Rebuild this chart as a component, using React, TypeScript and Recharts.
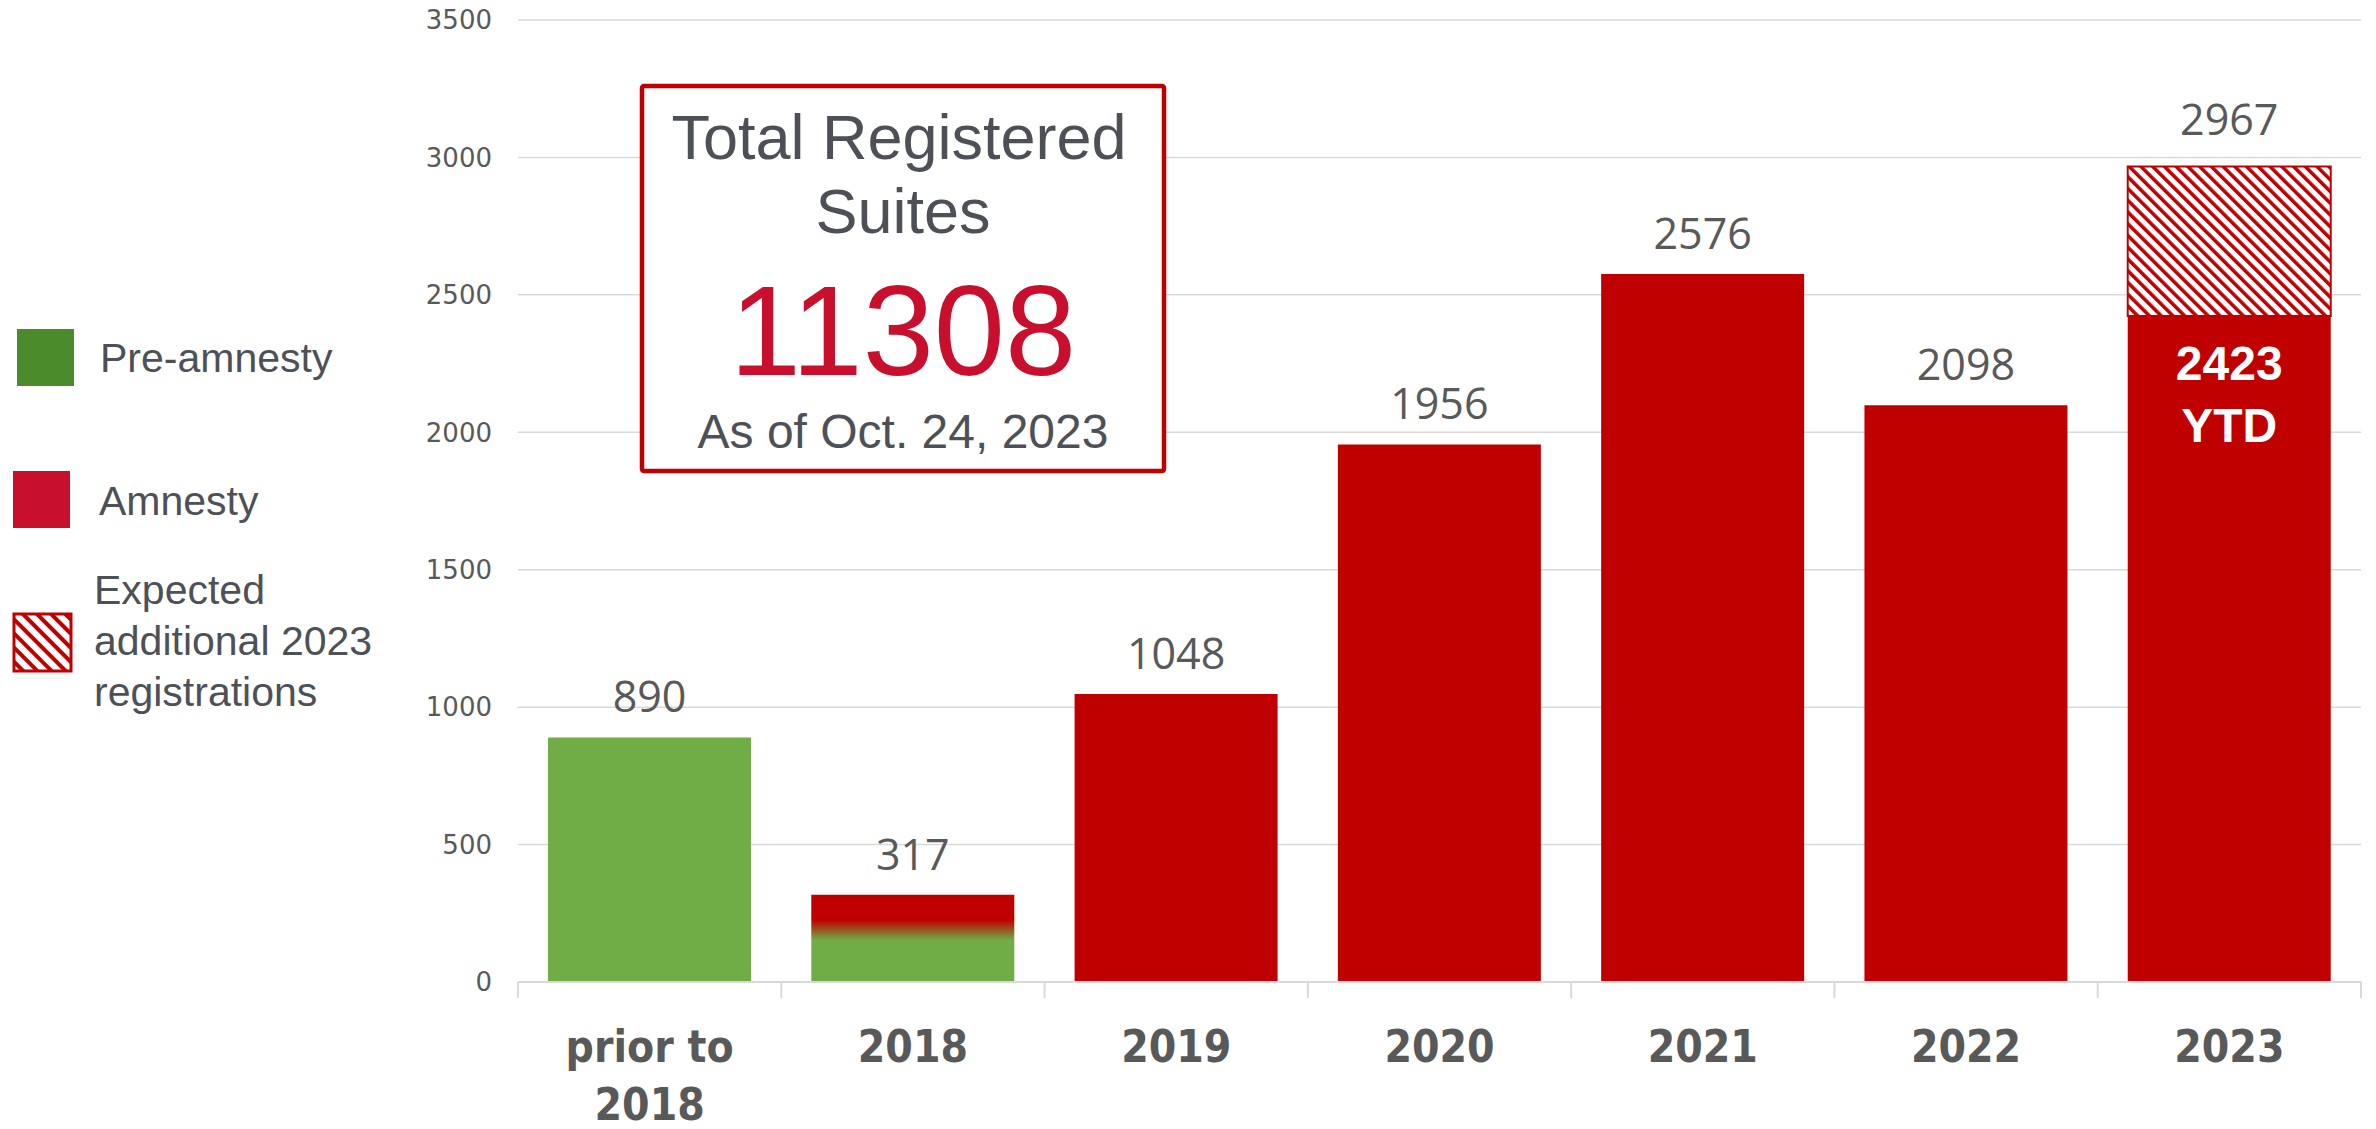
import React from 'react';
import { BarChart, Bar, XAxis, YAxis, CartesianGrid, Cell, LabelList } from 'recharts';

// values
const categories = ['prior to\n2018', '2018', '2019', '2020', '2021', '2022', '2023'];
const registered = [890, 317, 1048, 1956, 2576, 2098, 2423];
const expectedExtra = [0, 0, 0, 0, 0, 0, 544];
const phase = ['pre', 'mixed', 'amnesty', 'amnesty', 'amnesty', 'amnesty', 'ytd'];
const yTicks = [0, 500, 1000, 1500, 2000, 2500, 3000, 3500];
const totalSuites = 11308;
const asOf = 'As of Oct. 24, 2023';
const legendLabels = ['Pre-amnesty', 'Amnesty', 'Expected\nadditional 2023\nregistrations'];

const RED = '#C00000';
const GREEN = '#70AD47';
const LEGEND_GREEN = '#4C8B2B';
const LEGEND_RED = '#C8102E';
const TEXT = '#4D5157';
const LABEL = '#595959';
const GRID = '#D9D9D9';
const SANS = "'Liberation Sans', Arial, sans-serif";
const NUM = "'Open Sans', sans-serif";
const COND = "'DejaVu Sans Condensed', 'Liberation Sans Narrow', sans-serif";

const data = categories.map((name, i) => ({
  name,
  registered: registered[i],
  expected: expectedExtra[i],
  total: registered[i] + expectedExtra[i],
}));

const fillFor = (p: string) => {
  if (p === 'pre') return GREEN;
  if (p === 'mixed') return 'url(#grad2018)';
  return RED;
};

const XTick = (props: any) => {
  const { x, y, payload, index } = props;
  const half = payload && payload.offset ? payload.offset : 131.6;
  const lines = String(payload.value).split('\n');
  return (
    <g>
      <line x1={x - half} x2={x - half} y1={y} y2={y + 16} stroke={GRID} strokeWidth={2} />
      {index === categories.length - 1 && (
        <line x1={x + half} x2={x + half} y1={y} y2={y + 16} stroke={GRID} strokeWidth={2} />
      )}
      <text
        x={x}
        textAnchor="middle"
        fill={LABEL}
        fontFamily={COND}
        fontStretch="condensed"
        fontWeight="bold"
        fontSize={44}
      >
        {lines.map((l, i) => (
          <tspan key={i} x={x} y={y + 80 + i * 58}>
            {l}
          </tspan>
        ))}
      </text>
    </g>
  );
};

const renderRegisteredLabel = (props: any) => {
  const { x, y, width, index, value } = props;
  const cx = x + width / 2;
  if (phase[index] === 'ytd') {
    return (
      <text textAnchor="middle" fill="#fff" fontWeight="bold" fontFamily={SANS} fontSize={48}>
        <tspan x={cx} y={y + 64}>{value}</tspan>
        <tspan x={cx} y={y + 126}>YTD</tspan>
      </text>
    );
  }
  return (
    <text x={cx} y={y - 25} textAnchor="middle" fill={LABEL} fontFamily={NUM} fontSize={43}>
      {value}
    </text>
  );
};

// total above the stacked (hatched) segment, only where that segment exists
const renderTotalLabel = (props: any) => {
  const { x, y, width, height, value } = props;
  if (!height || Math.abs(height) < 0.5) return null;
  return (
    <text x={x + width / 2} y={y - 31} textAnchor="middle" fill={LABEL} fontFamily={NUM} fontSize={43}>
      {value}
    </text>
  );
};

const Overlay = () => (
  <svg
    width={2376}
    height={1129}
    style={{ position: 'absolute', left: 0, top: 0, pointerEvents: 'none' }}
  >
    <defs>
      <pattern id="hatchLegend" patternUnits="userSpaceOnUse" width={10} height={10} patternTransform="rotate(-45)">
        <rect width={10} height={10} fill="#fff" />
        <rect width={4} height={10} fill={RED} />
      </pattern>
    </defs>

    {/* legend */}
    <rect x={17} y={329} width={57} height={57} fill={LEGEND_GREEN} />
    <text x={100} y={372} fontFamily={SANS} fontSize={41} fill={TEXT}>{legendLabels[0]}</text>
    <rect x={13} y={471} width={57} height={57} fill={LEGEND_RED} />
    <text x={99} y={515} fontFamily={SANS} fontSize={41} fill={TEXT}>{legendLabels[1]}</text>
    <rect x={14} y={614} width={57} height={57} fill="url(#hatchLegend)" stroke={RED} strokeWidth={3} />
    <text fontFamily={SANS} fontSize={41} fill={TEXT}>
      {legendLabels[2].split('\n').map((l, i) => (
        <tspan key={i} x={94} y={604 + i * 51}>{l}</tspan>
      ))}
    </text>

    {/* total box */}
    <rect x={642} y={86} width={522} height={385} fill="#fff" stroke={RED} strokeWidth={4.5} rx={2} />
    <text textAnchor="middle" fontFamily={SANS} fill={TEXT} fontSize={63}>
      <tspan x={899} y={159}>Total Registered</tspan>
      <tspan x={903} y={233}>Suites</tspan>
    </text>
    <text x={903} y={375} textAnchor="middle" fontFamily={SANS} fill={LEGEND_RED} fontSize={128}>
      {totalSuites}
    </text>
    <text x={903} y={448} textAnchor="middle" fontFamily={SANS} fill={TEXT} fontSize={48}>
      {asOf}
    </text>
  </svg>
);

export default function App() {
  return (
    <div style={{ position: 'fixed', left: 0, top: 0, width: 2376, height: 1129, background: '#fff' }}>
      <BarChart
        width={2376}
        height={1129}
        data={data}
        margin={{ top: 20, right: 15, bottom: 0, left: 418 }}
        barCategoryGap="11.4%"
      >
        <defs>
          <linearGradient id="grad2018" x1="0" y1="0" x2="0" y2="1">
            <stop offset="0" stopColor={RED} />
            <stop offset="0.29" stopColor={RED} />
            <stop offset="0.52" stopColor={GREEN} />
            <stop offset="1" stopColor={GREEN} />
          </linearGradient>
          <pattern id="hatchBar" patternUnits="userSpaceOnUse" width={8.3} height={8.3} patternTransform="rotate(-45)">
            <rect width={8.3} height={8.3} fill="#fff" />
            <rect width={3.5} height={8.3} fill={RED} />
          </pattern>
        </defs>
        <CartesianGrid vertical={false} stroke={GRID} strokeWidth={1.5} />
        <XAxis
          dataKey="name"
          interval={0}
          height={147}
          axisLine={{ stroke: GRID, strokeWidth: 2 }}
          tickLine={false}
          tickSize={0}
          tickMargin={0}
          tick={<XTick />}
        />
        <YAxis
          width={100}
          domain={[0, 3500]}
          ticks={yTicks}
          axisLine={false}
          tickLine={false}
          tickSize={0}
          tickMargin={26}
          tick={{ fill: LABEL, fontSize: 26, fontFamily: "'DejaVu Sans', sans-serif" }}
        />
        <Bar dataKey="registered" stackId="a" isAnimationActive={false}>
          {data.map((_, i) => (
            <Cell key={i} fill={fillFor(phase[i])} />
          ))}
          <LabelList dataKey="registered" content={renderRegisteredLabel} />
        </Bar>
        <Bar dataKey="expected" stackId="a" fill="url(#hatchBar)" stroke={RED} strokeWidth={2} isAnimationActive={false}>
          <LabelList dataKey="total" content={renderTotalLabel} />
        </Bar>
      </BarChart>
      <Overlay />
    </div>
  );
}
